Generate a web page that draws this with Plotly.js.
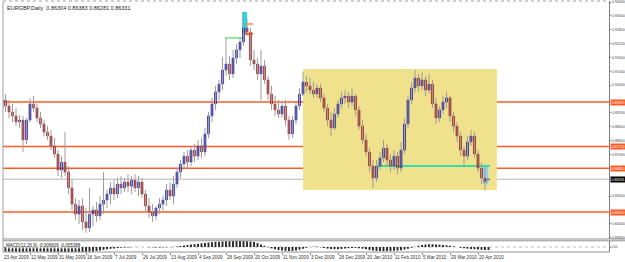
<!DOCTYPE html>
<html>
<head>
<meta charset="utf-8">
<script src="https://cdn.plot.ly/plotly-3.0.1.min.js"></script>
<style>html,body{margin:0;padding:0;background:#fff;}#chart{width:625px;height:262px;}</style>
</head>
<body>
<div id="chart"></div>
<script>
// ---- data (EURGBP Daily, bars Apr 2009 - Apr 2010) ----
const openP = [
0.8941,0.8976,0.8950,0.8924,0.8907,0.8881,0.8889,0.8803,0.8889,0.8959,
0.8941,0.8898,0.8872,0.8837,0.8820,0.8777,0.8742,0.8673,0.8707,0.8664,
0.8595,0.8525,0.8482,0.8517,0.8448,0.8422,0.8482,0.8500,0.8474,0.8525,
0.8543,0.8569,0.8595,0.8569,0.8612,0.8595,0.8621,0.8603,0.8629,0.8595,
0.8621,0.8569,0.8517,0.8491,0.8474,0.8508,0.8525,0.8543,0.8586,0.8560,
0.8612,0.8664,0.8699,0.8733,0.8707,0.8759,0.8733,0.8777,0.8751,0.8829,
0.8907,0.8959,0.9011,0.9045,0.9106,0.9132,0.9089,0.9158,0.9193,0.9227,
0.9288,0.9270,0.9149,0.9132,0.9089,0.9123,0.9063,0.9002,0.8959,0.8933,
0.8915,0.8950,0.8889,0.8829,0.8889,0.8950,0.9002,0.9054,0.9037,0.9019,
0.9002,0.9028,0.8985,0.8941,0.8889,0.8855,0.8915,0.8959,0.8985,0.8993,
0.8967,0.8993,0.8933,0.8863,0.8803,0.8751,0.8690,0.8638,0.8690,0.8725,
0.8768,0.8716,0.8690,0.8733,0.8681,0.8759,0.8872,0.8976,0.9028,0.9071,
0.9037,0.9063,0.9019,0.9045,0.8959,0.8898,0.8933,0.8967,0.8985,0.8907,
0.8863,0.8820,0.8759,0.8733,0.8794,0.8820,0.8742,0.8681,0.8638,0.86304];
const highP = [
0.9011,0.9002,0.8976,0.8959,0.8941,0.8911,0.8907,0.8898,0.8985,0.8993,
0.8959,0.8924,0.8889,0.8863,0.8846,0.8811,0.8759,0.8733,0.8837,0.8690,
0.8629,0.8551,0.8543,0.8551,0.8508,0.8595,0.8517,0.8534,0.8560,0.8664,
0.8586,0.8621,0.8629,0.8638,0.8647,0.8638,0.8655,0.8647,0.8655,0.8647,
0.8638,0.8586,0.8551,0.8525,0.8517,0.8551,0.8560,0.8612,0.8621,0.8647,
0.8681,0.8716,0.8751,0.8759,0.8777,0.8785,0.8803,0.8811,0.8855,0.8924,
0.8985,0.9037,0.9063,0.9162,0.9245,0.9167,0.9193,0.9219,0.9245,0.9357,
0.9331,0.9288,0.9193,0.9158,0.9193,0.9149,0.9080,0.9037,0.8993,0.8976,
0.8967,0.8976,0.8907,0.8907,0.8967,0.9028,0.9097,0.9080,0.9071,0.9054,
0.9045,0.9045,0.9002,0.8959,0.8924,0.8941,0.8976,0.9011,0.9019,0.9011,
0.9028,0.9002,0.8950,0.8889,0.8829,0.8768,0.8716,0.8716,0.8751,0.8803,
0.8785,0.8742,0.8759,0.8751,0.8794,0.8898,0.8993,0.9054,0.9106,0.9089,
0.9097,0.9080,0.9089,0.9063,0.8985,0.8950,0.8993,0.9011,0.8993,0.8924,
0.8881,0.8837,0.8777,0.8820,0.8846,0.8837,0.8759,0.8707,0.8690,0.86383];
const lowP = [
0.8915,0.8924,0.8898,0.8881,0.8863,0.8855,0.8751,0.8785,0.8881,0.8924,
0.8881,0.8855,0.8820,0.8803,0.8759,0.8725,0.8647,0.8638,0.8647,0.8569,
0.8500,0.8456,0.8439,0.8413,0.8400,0.8404,0.8430,0.8448,0.8456,0.8482,
0.8508,0.8525,0.8543,0.8551,0.8569,0.8577,0.8577,0.8569,0.8577,0.8560,
0.8551,0.8491,0.8465,0.8448,0.8456,0.8482,0.8491,0.8517,0.8543,0.8525,
0.8595,0.8638,0.8673,0.8681,0.8690,0.8707,0.8716,0.8725,0.8733,0.8811,
0.8881,0.8933,0.8976,0.9019,0.9080,0.9063,0.9071,0.9132,0.9158,0.9210,
0.9253,0.9123,0.9106,0.9063,0.8976,0.9045,0.8976,0.8933,0.8907,0.8898,
0.8898,0.8863,0.8803,0.8811,0.8872,0.8933,0.8993,0.9011,0.9002,0.8985,
0.8985,0.8967,0.8924,0.8863,0.8820,0.8846,0.8898,0.8941,0.8959,0.8941,
0.8950,0.8907,0.8846,0.8785,0.8733,0.8664,0.8595,0.8621,0.8673,0.8707,
0.8690,0.8664,0.8673,0.8655,0.8664,0.8742,0.8855,0.8959,0.9011,0.9011,
0.9019,0.8993,0.9002,0.8941,0.8872,0.8881,0.8915,0.8941,0.8881,0.8837,
0.8794,0.8733,0.8690,0.8716,0.8777,0.8725,0.8664,0.8612,0.8586,0.86281];
const closeP = [
0.8976,0.8950,0.8924,0.8907,0.8881,0.8889,0.8803,0.8889,0.8959,0.8941,
0.8898,0.8872,0.8837,0.8820,0.8777,0.8742,0.8673,0.8707,0.8664,0.8595,
0.8525,0.8482,0.8517,0.8448,0.8422,0.8482,0.8500,0.8474,0.8525,0.8543,
0.8569,0.8595,0.8569,0.8612,0.8595,0.8621,0.8603,0.8629,0.8595,0.8621,
0.8569,0.8517,0.8491,0.8474,0.8508,0.8525,0.8543,0.8586,0.8560,0.8612,
0.8664,0.8699,0.8733,0.8707,0.8759,0.8733,0.8777,0.8751,0.8829,0.8907,
0.8959,0.9011,0.9045,0.9106,0.9132,0.9089,0.9158,0.9193,0.9227,0.9288,
0.9270,0.9149,0.9132,0.9089,0.9123,0.9063,0.9002,0.8959,0.8933,0.8915,
0.8950,0.8889,0.8829,0.8889,0.8950,0.9002,0.9054,0.9037,0.9019,0.9002,
0.9028,0.8985,0.8941,0.8889,0.8855,0.8915,0.8959,0.8985,0.8993,0.8967,
0.8993,0.8933,0.8863,0.8803,0.8751,0.8690,0.8638,0.8690,0.8725,0.8768,
0.8716,0.8690,0.8733,0.8681,0.8759,0.8872,0.8976,0.9028,0.9071,0.9037,
0.9063,0.9019,0.9045,0.8959,0.8898,0.8933,0.8967,0.8985,0.8907,0.8863,
0.8820,0.8759,0.8733,0.8794,0.8820,0.8742,0.8681,0.8638,0.8621,0.86331];
const macdMain = [
-0.0095,-0.0098,-0.0100,-0.0102,-0.0103,-0.0104,-0.0105,-0.0103,-0.0100,-0.0098,
-0.0098,-0.0099,-0.0100,-0.0102,-0.0104,-0.0106,-0.0107,-0.0107,-0.0108,-0.0108,
-0.0108,-0.0107,-0.0107,-0.0106,-0.0105,-0.0103,-0.0095,-0.0085,-0.0074,-0.0062,
-0.0050,-0.0040,-0.0032,-0.0024,-0.0018,-0.0012,-0.0008,-0.0004,-0.0002,0.0001,
0.0002,0.0000,-0.0004,-0.0008,-0.0010,-0.0010,-0.0008,-0.0005,-0.0006,0.0002,
0.0012,0.0022,0.0032,0.0042,0.0052,0.0062,0.0072,0.0080,0.0088,0.0096,
0.0104,0.0110,0.0115,0.0120,0.0124,0.0126,0.0128,0.0129,0.0129,0.0128,
0.0126,0.0120,0.0106,0.0084,0.0056,0.0026,-0.0004,-0.0030,-0.0050,-0.0066,
-0.0076,-0.0082,-0.0086,-0.0084,-0.0074,-0.0058,-0.0038,-0.0018,0.0002,0.0008,
0.0004,-0.0008,-0.0022,-0.0034,-0.0044,-0.0048,-0.0048,-0.0042,-0.0034,-0.0026,
-0.0020,-0.0020,-0.0026,-0.0036,-0.0050,-0.0064,-0.0076,-0.0084,-0.0088,-0.0088,
-0.0086,-0.0084,-0.0080,-0.0076,-0.0068,-0.0054,-0.0036,-0.0016,0.0006,0.0026,
0.0044,0.0054,0.0060,0.0060,0.0056,0.0050,0.0044,0.0036,0.0026,0.0014,
-0.0002,-0.0016,-0.0028,-0.0036,-0.0042,-0.0048,-0.0054,-0.0060,-0.0064,-0.006606];
const dateLabels = ['23 Apr 2009','12 May 2009','31 May 2009','18 Jun 2009','7 Jul 2009','26 Jul 2009',
  '13 Aug 2009','4 Sep 2009','28 Sep 2009','20 Oct 2009','11 Nov 2009','3 Dec 2009','28 Dec 2009',
  '20 Jan 2010','11 Feb 2010','5 Mar 2010','29 Mar 2010','20 Apr 2010'];
const dateLabelBars = [0,8,16,24,32,40,48,56,64,72,80,88,96,104,112,120,128,136];
const priceTicks = [0.94000,0.93400,0.92800,0.92200,0.91600,0.91000,0.90400,0.89800,0.89200,
  0.88600,0.88000,0.87400,0.86800,0.86200,0.85600,0.85000,0.84400,0.83800];
const macdTicks = [0.012946,0.0,-0.010775];
const macdTickText = ['0.012946','0.00','-0.010775'];
const hLevels = [0.8967,0.8775,0.8681,0.8491];
const lastOHLC = {o:0.86304,h:0.86383,l:0.86281,c:0.86331};
const macdSignal = -0.005388;
// drawing objects (bar index / price)
const zoneBox = {x0:86, x1:141.4, y0:0.8586, y1:0.9110};
const peakLine = {x0:63.7, x1:69.4, y:0.9245};
const peakBox = {x0:68.6, x1:70.0, y0:0.9266, y1:0.9357};
const peakStubs = [{x0:69.7, x1:71.7, y:0.9305, c:'#FF7F50'},{x0:69.4, x1:71.7, y:0.9262, c:'#FF4500'}];
const supportLine = {x0:107.4, x1:139.4, y:0.8690};
const endBox = {x0:137.4, x1:138.9, y0:0.8612, y1:0.8695};

// ---- build ----
const XR = [0.2857, 173.43];
const YR = [0.83741, 0.94047];
const N = closeP.length;
const idx = closeP.map((_, i) => i);
const wx = [], wy = [];
idx.forEach(i => { wx.push(i, i, null); wy.push(lowP[i], highP[i], null); });
const bodyBase = idx.map(i => Math.min(openP[i], closeP[i]));
const bodyLen = idx.map(i => Math.abs(closeP[i] - openP[i]));
const bodyCol = idx.map(i => closeP[i] >= openP[i] ? '#1414a8' : '#9a1010');

// tick labels hidden behind the price-line labels (as in the terminal)
const pxPerPrice = 238 / (YR[1] - YR[0]);
const covered = hLevels.concat([lastOHLC.c]);
const shownTicks = priceTicks.filter(t => covered.every(v => Math.abs(v - t) * pxPerPrice > 4.5));

const FONT = 'Liberation Sans, Arial, sans-serif';
const traces = [
  {type:'scatter', mode:'lines', x:wx, y:wy, line:{color:'#9c9c9c', width:1}, hoverinfo:'skip', xaxis:'x', yaxis:'y'},
  {type:'bar', x:idx, y:bodyLen, base:bodyBase, width:0.62, marker:{color:bodyCol, line:{color:bodyCol, width:0.4}}, xaxis:'x', yaxis:'y'},
  {type:'bar', x:idx, y:macdMain, width:0.55, marker:{color:'#2a2a2a', line:{width:0}}, xaxis:'x', yaxis:'y2'}
];

const shapes = [
  {type:'rect', xref:'x', yref:'y', x0:zoneBox.x0, x1:zoneBox.x1, y0:zoneBox.y0, y1:zoneBox.y1, fillcolor:'#F0E28C', line:{width:0}, layer:'below'},
  {type:'rect', xref:'x', yref:'y', x0:peakBox.x0, x1:peakBox.x1, y0:peakBox.y0, y1:peakBox.y1, fillcolor:'#1CDDE8', line:{width:0}, layer:'below'},
  {type:'rect', xref:'x', yref:'y', x0:endBox.x0, x1:endBox.x1, y0:endBox.y0, y1:endBox.y1, fillcolor:'#8ED2F0', line:{width:0}, layer:'below'},
  {type:'line', xref:'paper', yref:'y', x0:0, x1:1, y0:lastOHLC.c, y1:lastOHLC.c, line:{color:'#b4b4b4', width:1}, layer:'below'}
];
hLevels.forEach(v => shapes.push({type:'line', xref:'paper', yref:'y', x0:0, x1:1, y0:v, y1:v, line:{color:'#FF5A24', width:1.5}, layer:'below'}));
shapes.push({type:'line', xref:'x', yref:'y', x0:peakLine.x0, x1:peakLine.x1, y0:peakLine.y, y1:peakLine.y, line:{color:'#7EDC7E', width:1.5}, layer:'below'});
peakStubs.forEach(s => shapes.push({type:'line', xref:'x', yref:'y', x0:s.x0, x1:s.x1, y0:s.y, y1:s.y, line:{color:s.c, width:1.5}}));
shapes.push({type:'line', xref:'x', yref:'y', x0:supportLine.x0, x1:supportLine.x1, y0:supportLine.y, y1:supportLine.y, line:{color:'#2EE0A4', width:2}, layer:'below'});
// frame lines
shapes.push({type:'line', xref:'paper', yref:'paper', x0:0, x1:0, y0:0, y1:1, line:{color:'#a0a0a0', width:1}});
shapes.push({type:'line', xref:'paper', yref:'paper', x0:0, x1:1, y0:1, y1:1, line:{color:'#a0a0a0', width:1, dash:'dot'}});
shapes.push({type:'line', xref:'paper', yref:'paper', x0:0, x1:1.03, y0:0.0518, y1:0.0518, line:{color:'#909090', width:1}});
shapes.push({type:'line', xref:'paper', yref:'paper', x0:0, x1:1.03, y0:0.0446, y1:0.0446, line:{color:'#909090', width:1}});
shapes.push({type:'line', xref:'paper', yref:'paper', x0:0, x1:1, y0:0, y1:0, line:{color:'#909090', width:1}});
shapes.push({type:'line', xref:'paper', yref:'y2', x0:0, x1:1, y0:0, y1:0, line:{color:'#bbbbbb', width:1, dash:'dot'}, layer:'below'});

const annotations = [
  {xref:'paper', yref:'paper', x:0, y:1, xanchor:'left', yanchor:'top', xshift:2, yshift:-2, showarrow:false,
   text:'EURGBP,Daily  ' + [lastOHLC.o, lastOHLC.h, lastOHLC.l, lastOHLC.c].map(v => v.toFixed(5)).join(' '),
   font:{family:FONT, size:5.5, color:'#222'}},
  {xref:'paper', yref:'paper', x:0, y:0.041, xanchor:'left', yanchor:'top', xshift:2, showarrow:false,
   text:'MACD(12,26,9) ' + macdMain[N-1].toFixed(6) + ' ' + macdSignal.toFixed(6),
   font:{family:FONT, size:4.5, color:'#222'}, bgcolor:'rgba(255,255,255,0.6)', borderpad:0}
];
dateLabels.forEach((t, k) => annotations.push({xref:'x', yref:'paper', x:Math.max(dateLabelBars[k], XR[0] + 0.01), y:0,
  xanchor:'left', yanchor:'top', xshift:-1, yshift:-1, showarrow:false, text:t, font:{family:FONT, size:4.6, color:'#333'}}));
hLevels.forEach(v => annotations.push({xref:'paper', yref:'y', x:1, y:v, xanchor:'left', yanchor:'middle', xshift:1,
  showarrow:false, text:v.toFixed(5), font:{family:FONT, size:3.6, color:'#fff'}, bgcolor:'#FF5A24', borderpad:0.5}));
annotations.push({xref:'paper', yref:'y', x:1, y:lastOHLC.c, xanchor:'left', yanchor:'middle', xshift:1,
  showarrow:false, text:lastOHLC.c.toFixed(5), font:{family:FONT, size:3.6, color:'#fff'}, bgcolor:'#000', borderpad:0.5});

const layout = {
  width:625, height:262,
  margin:{l:3, r:16, t:1, b:10, pad:0},
  paper_bgcolor:'#ffffff', plot_bgcolor:'#ffffff',
  showlegend:false, barmode:'overlay',
  font:{family:FONT, size:4, color:'#444'},
  xaxis:{domain:[0,1], range:XR, anchor:'y2', showgrid:false, zeroline:false, showline:false,
    tickvals:dateLabelBars, ticks:'outside', ticklen:2, tickcolor:'#888', showticklabels:false, fixedrange:true},
  yaxis:{domain:[0.0518,1], range:YR, side:'right', anchor:'x', showgrid:false, zeroline:false,
    showline:true, linecolor:'#808080', linewidth:1, ticks:'outside', ticklen:1, tickcolor:'#808080',
    ticklabelstandoff:0,
    tickvals:shownTicks, ticktext:shownTicks.map(v => v.toFixed(5)), tickfont:{family:FONT, size:3.6, color:'#444'}},
  yaxis2:{domain:[0,0.0438], range:[-0.01075,0.0129], side:'right', anchor:'x', showgrid:false, zeroline:false,
    showline:true, linecolor:'#808080', linewidth:1, ticks:'outside', ticklen:1, tickcolor:'#808080',
    ticklabelstandoff:0,
    tickvals:macdTicks, ticktext:macdTickText, tickfont:{family:FONT, size:3.0, color:'#444'}},
  shapes:shapes, annotations:annotations
};
Plotly.newPlot('chart', traces, layout, {staticPlot:true, displayModeBar:false});
</script>
</body>
</html>
